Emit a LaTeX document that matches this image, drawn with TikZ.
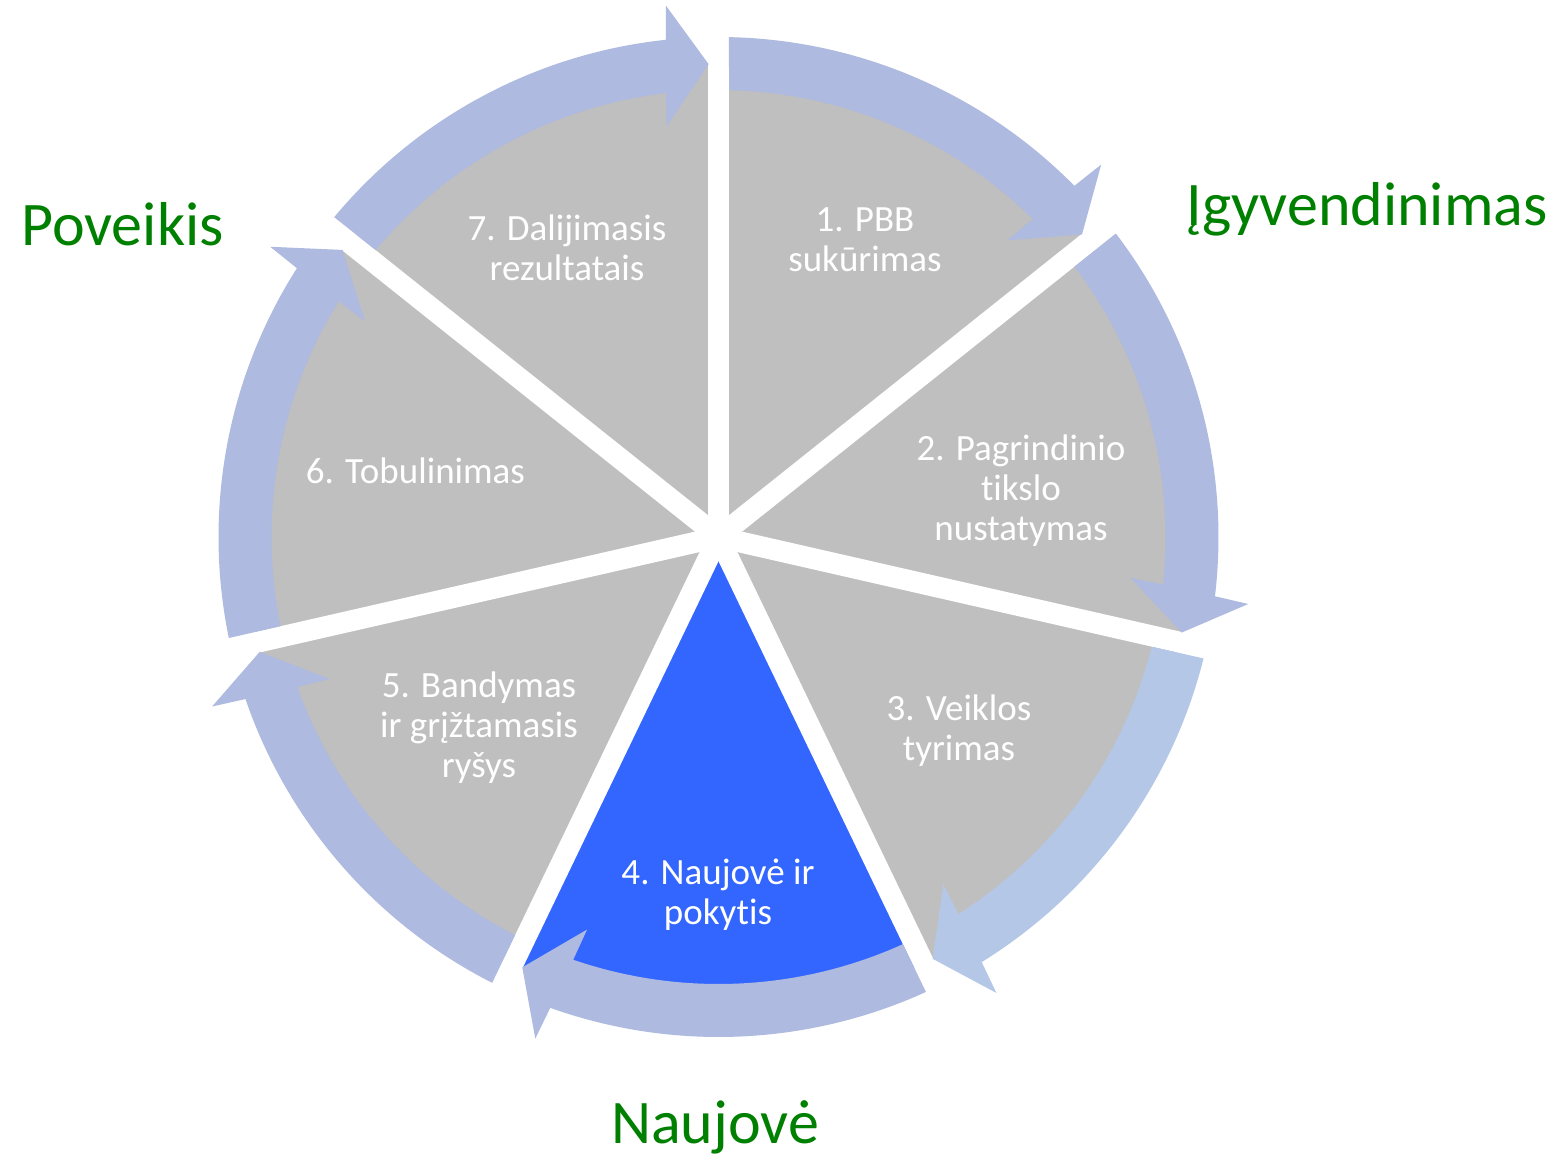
\documentclass[tikz,border=0pt]{standalone}
\usepackage{fontspec}
\setmainfont{Carlito}[Ligatures={NoCommon,NoContextual}]

\definecolor{seggray}{HTML}{BFBFBF}
\definecolor{segblue}{HTML}{3366FF}
\definecolor{arrowblue}{HTML}{AEBADF}
\definecolor{arrowlight}{HTML}{B4C7E7}
\definecolor{phasegreen}{HTML}{008000}

\tikzset{
  seggap/.style={white, line width=10.5pt},
  segtext/.style={text=white, align=center, inner sep=0pt,
    font=\fontsize{18.5}{20}\selectfont},
  phase/.style={text=phasegreen, inner sep=0pt, anchor=base,
    font=\fontsize{31}{36}\selectfont},
}

\begin{document}
\begin{tikzpicture}[x=0.5pt, y=0.5pt]
  \useasboundingbox (-718.5,-621) rectangle (844.5,537);

  % pie segments
  \foreach \k/\col in {1/seggray,2/seggray,3/seggray,4/segblue,5/seggray,6/seggray,7/seggray} {
    \pgfmathsetmacro\angA{90-(\k-1)*360/7}
    \pgfmathsetmacro\angB{\angA-360/7}
    \fill[\col] (0,0) -- (\angA:473) arc[start angle=\angA, end angle=\angB, radius=473] -- cycle;
  }

  % white cuts between segments
  \foreach \k in {0,...,6}
    \draw[seggap] (0,0) -- ({90-\k*360/7}:490);

  % curved arrows round the ring
  \foreach \k/\col in {1/arrowblue,2/arrowblue,3/arrowlight,4/arrowblue,5/arrowblue,6/arrowblue,7/arrowblue} {
    \pgfmathsetmacro\angA{90-(\k-1)*360/7}
    \pgfmathsetmacro\outA{\angA-1.2}
    \pgfmathsetmacro\inA{\angA-1.35}
    \pgfmathsetmacro\tipang{\angA-360/7+1.2}
    \pgfmathsetmacro\outH{\tipang+4.85}
    \pgfmathsetmacro\inH{\tipang+5.55}
    \pgfmathsetmacro\barbO{\tipang+4.45}
    \pgfmathsetmacro\barbI{\tipang+6.0}
    \fill[\col] (\outA:500) arc[start angle=\outA, end angle=\outH, radius=500]
      -- (\barbO:534) -- (\tipang:473) -- (\barbI:414) -- (\inH:447)
      arc[start angle=\inH, end angle=\inA, radius=447] -- cycle;
  }

  \node[segtext] (1) at (146.5,297) {1. PBB\\sukūrimas};
  \node[segtext] (2) at (302.5,46) {2. Pagrindinio\\tikslo\\nustatymas};
  \node[segtext] (3) at (240.5,-194) {3. Veiklos\\tyrimas};
  \node[segtext] (4) at (-0.5,-358) {4. Naujovė ir\\pokytis};
  \node[segtext] (5) at (-239.5,-191) {5. Bandymas\\ir grįžtamasis\\ryšys};
  \node[segtext] (6) at (-303,66) {6. Tobulinimas};
  \node[segtext] (7) at (-151.5,289) {7. Dalijimasis\\rezultatais};

  \node[phase] (poveikis) at (-596,292) {Poveikis};
  \node[phase] (igyvendinimas) at (648.5,312) {Įgyvendinimas};
  \node[phase] (naujove) at (-3.5,-606) {Naujovė};
\end{tikzpicture}
\end{document}
